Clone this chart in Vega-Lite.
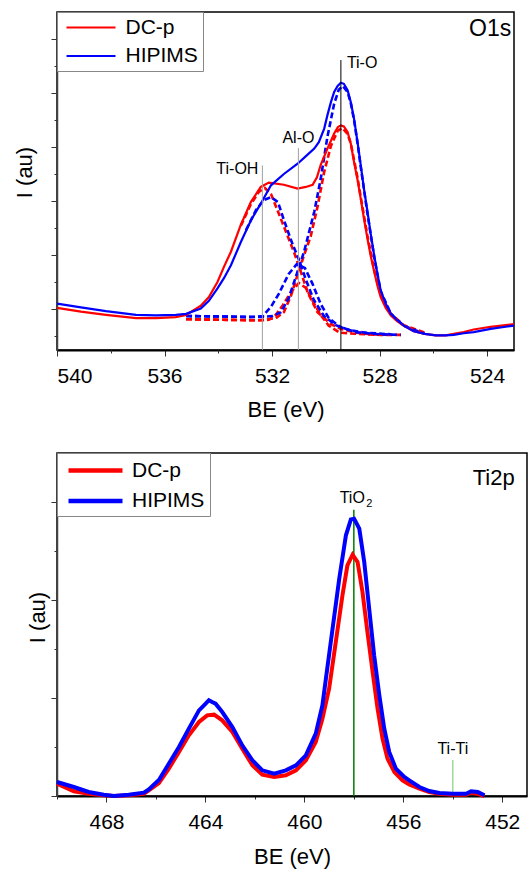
{
"$schema": "https://vega.github.io/schema/vega-lite/v6.json",
"padding": {"left": 12, "top": 10, "right": 2, "bottom": 2},
"bounds": "flush",
"spacing": 103,
"config": {
  "font": "Liberation Sans",
  "view": {"stroke": "#000000", "strokeWidth": 1.5},
  "axis": {"labelFont": "Liberation Sans", "titleFont": "Liberation Sans", "labelFontSize": 21, "titleFontSize": 22, "titleFontWeight": "normal", "labelColor": "#000", "titleColor": "#000", "tickColor": "#333", "domainColor": "#000", "grid": false},
  "text": {"font": "Liberation Sans"}
},
"resolve": {"scale": {"color": "independent"}, "legend": {"color": "independent"}},
"datasets": {
  "o1s": [
    {"be":540.0,"i":1.02,"s":"DC-p"},{"be":539.11,"i":0.95,"s":"DC-p"},{"be":538.18,"i":0.89,"s":"DC-p"},{"be":537.06,"i":0.83,"s":"DC-p"},{"be":536.32,"i":0.83,"s":"DC-p"},{"be":535.58,"i":0.85,"s":"DC-p"},{"be":535.2,"i":0.89,"s":"DC-p"},{"be":534.65,"i":1.06,"s":"DC-p"},{"be":534.35,"i":1.22,"s":"DC-p"},{"be":534.03,"i":1.5,"s":"DC-p"},{"be":533.79,"i":1.78,"s":"DC-p"},{"be":533.53,"i":2.06,"s":"DC-p"},{"be":533.16,"i":2.56,"s":"DC-p"},{"be":532.79,"i":2.98,"s":"DC-p"},{"be":532.42,"i":3.26,"s":"DC-p"},{"be":532.12,"i":3.34,"s":"DC-p"},{"be":531.56,"i":3.3,"s":"DC-p"},{"be":531.05,"i":3.23,"s":"DC-p"},{"be":530.74,"i":3.26,"s":"DC-p"},{"be":530.49,"i":3.3,"s":"DC-p"},{"be":530.33,"i":3.44,"s":"DC-p"},{"be":530.19,"i":3.67,"s":"DC-p"},{"be":529.94,"i":3.97,"s":"DC-p"},{"be":529.69,"i":4.25,"s":"DC-p"},{"be":529.55,"i":4.37,"s":"DC-p"},{"be":529.44,"i":4.4,"s":"DC-p"},{"be":529.33,"i":4.38,"s":"DC-p"},{"be":529.19,"i":4.28,"s":"DC-p"},{"be":529.07,"i":4.06,"s":"DC-p"},{"be":528.95,"i":3.72,"s":"DC-p"},{"be":528.82,"i":3.39,"s":"DC-p"},{"be":528.7,"i":3.04,"s":"DC-p"},{"be":528.58,"i":2.67,"s":"DC-p"},{"be":528.45,"i":2.3,"s":"DC-p"},{"be":528.33,"i":1.98,"s":"DC-p"},{"be":528.2,"i":1.69,"s":"DC-p"},{"be":528.08,"i":1.43,"s":"DC-p"},{"be":527.96,"i":1.22,"s":"DC-p"},{"be":527.77,"i":1.02,"s":"DC-p"},{"be":527.58,"i":0.88,"s":"DC-p"},{"be":527.36,"i":0.78,"s":"DC-p"},{"be":527.1,"i":0.69,"s":"DC-p"},{"be":526.73,"i":0.59,"s":"DC-p"},{"be":526.32,"i":0.54,"s":"DC-p"},{"be":525.91,"i":0.51,"s":"DC-p"},{"be":525.54,"i":0.51,"s":"DC-p"},{"be":525.24,"i":0.54,"s":"DC-p"},{"be":524.87,"i":0.57,"s":"DC-p"},{"be":524.5,"i":0.62,"s":"DC-p"},{"be":523.87,"i":0.67,"s":"DC-p"},{"be":523.31,"i":0.7,"s":"DC-p"},{"be":523.0,"i":0.72,"s":"DC-p"},
    {"be":540.0,"i":1.1,"s":"HIPIMS"},{"be":539.11,"i":1.03,"s":"HIPIMS"},{"be":538.18,"i":0.96,"s":"HIPIMS"},{"be":537.06,"i":0.89,"s":"HIPIMS"},{"be":536.32,"i":0.88,"s":"HIPIMS"},{"be":535.58,"i":0.89,"s":"HIPIMS"},{"be":535.2,"i":0.91,"s":"HIPIMS"},{"be":534.65,"i":1.01,"s":"HIPIMS"},{"be":534.35,"i":1.15,"s":"HIPIMS"},{"be":534.03,"i":1.38,"s":"HIPIMS"},{"be":533.79,"i":1.57,"s":"HIPIMS"},{"be":533.53,"i":1.81,"s":"HIPIMS"},{"be":533.16,"i":2.24,"s":"HIPIMS"},{"be":532.79,"i":2.64,"s":"HIPIMS"},{"be":532.42,"i":2.95,"s":"HIPIMS"},{"be":532.04,"i":3.29,"s":"HIPIMS"},{"be":531.56,"i":3.5,"s":"HIPIMS"},{"be":531.05,"i":3.69,"s":"HIPIMS"},{"be":530.74,"i":3.83,"s":"HIPIMS"},{"be":530.43,"i":3.97,"s":"HIPIMS"},{"be":530.26,"i":4.09,"s":"HIPIMS"},{"be":530.06,"i":4.34,"s":"HIPIMS"},{"be":529.94,"i":4.59,"s":"HIPIMS"},{"be":529.81,"i":4.83,"s":"HIPIMS"},{"be":529.69,"i":5.02,"s":"HIPIMS"},{"be":529.56,"i":5.13,"s":"HIPIMS"},{"be":529.44,"i":5.19,"s":"HIPIMS"},{"be":529.33,"i":5.17,"s":"HIPIMS"},{"be":529.19,"i":5.05,"s":"HIPIMS"},{"be":529.07,"i":4.83,"s":"HIPIMS"},{"be":528.95,"i":4.52,"s":"HIPIMS"},{"be":528.82,"i":4.09,"s":"HIPIMS"},{"be":528.7,"i":3.66,"s":"HIPIMS"},{"be":528.58,"i":3.22,"s":"HIPIMS"},{"be":528.45,"i":2.8,"s":"HIPIMS"},{"be":528.33,"i":2.39,"s":"HIPIMS"},{"be":528.2,"i":1.99,"s":"HIPIMS"},{"be":528.08,"i":1.65,"s":"HIPIMS"},{"be":527.96,"i":1.35,"s":"HIPIMS"},{"be":527.77,"i":1.09,"s":"HIPIMS"},{"be":527.58,"i":0.91,"s":"HIPIMS"},{"be":527.36,"i":0.8,"s":"HIPIMS"},{"be":527.1,"i":0.69,"s":"HIPIMS"},{"be":526.73,"i":0.59,"s":"HIPIMS"},{"be":526.32,"i":0.54,"s":"HIPIMS"},{"be":525.91,"i":0.51,"s":"HIPIMS"},{"be":525.54,"i":0.51,"s":"HIPIMS"},{"be":525.24,"i":0.52,"s":"HIPIMS"},{"be":524.87,"i":0.55,"s":"HIPIMS"},{"be":524.5,"i":0.57,"s":"HIPIMS"},{"be":523.87,"i":0.63,"s":"HIPIMS"},{"be":523.31,"i":0.67,"s":"HIPIMS"},{"be":523.0,"i":0.69,"s":"HIPIMS"}
  ],
  "o1s_c": [
    {"be":533.16,"i":2.54,"s":"DC-p","c":"Ti-OH"},{"be":532.79,"i":2.94,"s":"DC-p","c":"Ti-OH"},{"be":532.49,"i":3.17,"s":"DC-p","c":"Ti-OH"},{"be":532.27,"i":3.24,"s":"DC-p","c":"Ti-OH"},{"be":532.04,"i":3.13,"s":"DC-p","c":"Ti-OH"},{"be":531.8,"i":2.83,"s":"DC-p","c":"Ti-OH"},{"be":531.42,"i":2.35,"s":"DC-p","c":"Ti-OH"},{"be":531.19,"i":2.06,"s":"DC-p","c":"Ti-OH"},{"be":530.99,"i":1.78,"s":"DC-p","c":"Ti-OH"},{"be":530.68,"i":1.31,"s":"DC-p","c":"Ti-OH"},{"be":530.31,"i":0.94,"s":"DC-p","c":"Ti-OH"},{"be":529.81,"i":0.72,"s":"DC-p","c":"Ti-OH"},{"be":529.44,"i":0.63,"s":"DC-p","c":"Ti-OH"},{"be":528.96,"i":0.57,"s":"DC-p","c":"Ti-OH"},{"be":528.33,"i":0.53,"s":"DC-p","c":"Ti-OH"},{"be":527.58,"i":0.52,"s":"DC-p","c":"Ti-OH"},
    {"be":535.2,"i":0.81,"s":"DC-p","c":"Al-O"},{"be":533.9,"i":0.8,"s":"DC-p","c":"Al-O"},{"be":532.6,"i":0.79,"s":"DC-p","c":"Al-O"},{"be":532.12,"i":0.8,"s":"DC-p","c":"Al-O"},{"be":531.86,"i":0.89,"s":"DC-p","c":"Al-O"},{"be":531.6,"i":1.07,"s":"DC-p","c":"Al-O"},{"be":531.3,"i":1.31,"s":"DC-p","c":"Al-O"},{"be":531.0,"i":1.48,"s":"DC-p","c":"Al-O"},{"be":530.74,"i":1.39,"s":"DC-p","c":"Al-O"},{"be":530.49,"i":1.15,"s":"DC-p","c":"Al-O"},{"be":530.22,"i":0.91,"s":"DC-p","c":"Al-O"},{"be":529.89,"i":0.69,"s":"DC-p","c":"Al-O"},{"be":529.48,"i":0.56,"s":"DC-p","c":"Al-O"},{"be":528.89,"i":0.54,"s":"DC-p","c":"Al-O"},{"be":527.96,"i":0.52,"s":"DC-p","c":"Al-O"},{"be":527.21,"i":0.52,"s":"DC-p","c":"Al-O"},
    {"be":535.2,"i":0.81,"s":"DC-p","c":"Ti-O"},{"be":533.9,"i":0.8,"s":"DC-p","c":"Ti-O"},{"be":532.42,"i":0.79,"s":"DC-p","c":"Ti-O"},{"be":531.86,"i":0.83,"s":"DC-p","c":"Ti-O"},{"be":531.56,"i":0.94,"s":"DC-p","c":"Ti-O"},{"be":531.3,"i":1.24,"s":"DC-p","c":"Ti-O"},{"be":531.04,"i":1.65,"s":"DC-p","c":"Ti-O"},{"be":530.82,"i":1.98,"s":"DC-p","c":"Ti-O"},{"be":530.56,"i":2.35,"s":"DC-p","c":"Ti-O"},{"be":530.31,"i":2.89,"s":"DC-p","c":"Ti-O"},{"be":530.06,"i":3.54,"s":"DC-p","c":"Ti-O"},{"be":529.81,"i":4.02,"s":"DC-p","c":"Ti-O"},{"be":529.56,"i":4.3,"s":"DC-p","c":"Ti-O"},{"be":529.38,"i":4.35,"s":"DC-p","c":"Ti-O"},{"be":529.19,"i":4.24,"s":"DC-p","c":"Ti-O"},{"be":529.07,"i":4.06,"s":"DC-p","c":"Ti-O"},{"be":528.95,"i":3.76,"s":"DC-p","c":"Ti-O"},{"be":528.82,"i":3.43,"s":"DC-p","c":"Ti-O"},{"be":528.7,"i":3.07,"s":"DC-p","c":"Ti-O"},{"be":528.45,"i":2.35,"s":"DC-p","c":"Ti-O"},{"be":528.2,"i":1.72,"s":"DC-p","c":"Ti-O"},{"be":527.96,"i":1.26,"s":"DC-p","c":"Ti-O"},{"be":527.58,"i":0.91,"s":"DC-p","c":"Ti-O"},{"be":527.1,"i":0.7,"s":"DC-p","c":"Ti-O"},{"be":526.32,"i":0.56,"s":"DC-p","c":"Ti-O"},
    {"be":532.97,"i":2.46,"s":"HIPIMS","c":"Ti-OH"},{"be":532.6,"i":2.83,"s":"HIPIMS","c":"Ti-OH"},{"be":532.3,"i":3.02,"s":"HIPIMS","c":"Ti-OH"},{"be":532.04,"i":3.07,"s":"HIPIMS","c":"Ti-OH"},{"be":531.78,"i":2.98,"s":"HIPIMS","c":"Ti-OH"},{"be":531.56,"i":2.65,"s":"HIPIMS","c":"Ti-OH"},{"be":531.3,"i":2.28,"s":"HIPIMS","c":"Ti-OH"},{"be":531.0,"i":1.91,"s":"HIPIMS","c":"Ti-OH"},{"be":530.74,"i":1.54,"s":"HIPIMS","c":"Ti-OH"},{"be":530.45,"i":1.17,"s":"HIPIMS","c":"Ti-OH"},{"be":530.07,"i":0.87,"s":"HIPIMS","c":"Ti-OH"},{"be":529.63,"i":0.7,"s":"HIPIMS","c":"Ti-OH"},{"be":529.14,"i":0.61,"s":"HIPIMS","c":"Ti-OH"},{"be":528.51,"i":0.56,"s":"HIPIMS","c":"Ti-OH"},{"be":527.58,"i":0.53,"s":"HIPIMS","c":"Ti-OH"},
    {"be":535.2,"i":0.87,"s":"HIPIMS","c":"Al-O"},{"be":533.9,"i":0.86,"s":"HIPIMS","c":"Al-O"},{"be":532.79,"i":0.85,"s":"HIPIMS","c":"Al-O"},{"be":532.34,"i":0.87,"s":"HIPIMS","c":"Al-O"},{"be":532.04,"i":1.04,"s":"HIPIMS","c":"Al-O"},{"be":531.75,"i":1.28,"s":"HIPIMS","c":"Al-O"},{"be":531.38,"i":1.65,"s":"HIPIMS","c":"Al-O"},{"be":531.08,"i":1.83,"s":"HIPIMS","c":"Al-O"},{"be":530.78,"i":1.76,"s":"HIPIMS","c":"Al-O"},{"be":530.49,"i":1.46,"s":"HIPIMS","c":"Al-O"},{"be":530.19,"i":1.09,"s":"HIPIMS","c":"Al-O"},{"be":529.89,"i":0.83,"s":"HIPIMS","c":"Al-O"},{"be":529.48,"i":0.67,"s":"HIPIMS","c":"Al-O"},{"be":528.89,"i":0.57,"s":"HIPIMS","c":"Al-O"},{"be":527.96,"i":0.53,"s":"HIPIMS","c":"Al-O"},{"be":527.21,"i":0.52,"s":"HIPIMS","c":"Al-O"},
    {"be":535.2,"i":0.87,"s":"HIPIMS","c":"Ti-O"},{"be":533.9,"i":0.86,"s":"HIPIMS","c":"Ti-O"},{"be":532.42,"i":0.85,"s":"HIPIMS","c":"Ti-O"},{"be":531.97,"i":0.87,"s":"HIPIMS","c":"Ti-O"},{"be":531.67,"i":0.94,"s":"HIPIMS","c":"Ti-O"},{"be":531.38,"i":1.2,"s":"HIPIMS","c":"Ti-O"},{"be":531.08,"i":1.65,"s":"HIPIMS","c":"Ti-O"},{"be":530.81,"i":2.06,"s":"HIPIMS","c":"Ti-O"},{"be":530.43,"i":2.8,"s":"HIPIMS","c":"Ti-O"},{"be":530.19,"i":3.41,"s":"HIPIMS","c":"Ti-O"},{"be":529.94,"i":4.19,"s":"HIPIMS","c":"Ti-O"},{"be":529.69,"i":4.8,"s":"HIPIMS","c":"Ti-O"},{"be":529.52,"i":5.06,"s":"HIPIMS","c":"Ti-O"},{"be":529.37,"i":5.13,"s":"HIPIMS","c":"Ti-O"},{"be":529.19,"i":5.02,"s":"HIPIMS","c":"Ti-O"},{"be":529.07,"i":4.81,"s":"HIPIMS","c":"Ti-O"},{"be":528.95,"i":4.5,"s":"HIPIMS","c":"Ti-O"},{"be":528.82,"i":4.07,"s":"HIPIMS","c":"Ti-O"},{"be":528.7,"i":3.63,"s":"HIPIMS","c":"Ti-O"},{"be":528.45,"i":2.76,"s":"HIPIMS","c":"Ti-O"},{"be":528.2,"i":1.96,"s":"HIPIMS","c":"Ti-O"},{"be":527.96,"i":1.33,"s":"HIPIMS","c":"Ti-O"},{"be":527.58,"i":0.91,"s":"HIPIMS","c":"Ti-O"},{"be":527.1,"i":0.69,"s":"HIPIMS","c":"Ti-O"},{"be":526.32,"i":0.54,"s":"HIPIMS","c":"Ti-O"}
  ],
  "ti2p": [
    {"be":470.0,"i":0.126,"s":"DC-p"},{"be":469.32,"i":0.048,"s":"DC-p"},{"be":468.72,"i":0.023,"s":"DC-p"},{"be":468.11,"i":0.007,"s":"DC-p"},{"be":467.7,"i":0.0,"s":"DC-p"},{"be":467.1,"i":0.007,"s":"DC-p"},{"be":466.49,"i":0.023,"s":"DC-p"},{"be":466.29,"i":0.058,"s":"DC-p"},{"be":465.88,"i":0.133,"s":"DC-p"},{"be":465.48,"i":0.279,"s":"DC-p"},{"be":465.07,"i":0.449,"s":"DC-p"},{"be":464.67,"i":0.619,"s":"DC-p"},{"be":464.26,"i":0.755,"s":"DC-p"},{"be":463.93,"i":0.823,"s":"DC-p"},{"be":463.65,"i":0.83,"s":"DC-p"},{"be":463.32,"i":0.772,"s":"DC-p"},{"be":462.91,"i":0.653,"s":"DC-p"},{"be":462.51,"i":0.483,"s":"DC-p"},{"be":462.1,"i":0.313,"s":"DC-p"},{"be":461.7,"i":0.217,"s":"DC-p"},{"be":461.22,"i":0.194,"s":"DC-p"},{"be":460.75,"i":0.211,"s":"DC-p"},{"be":460.34,"i":0.262,"s":"DC-p"},{"be":459.94,"i":0.364,"s":"DC-p"},{"be":459.54,"i":0.551,"s":"DC-p"},{"be":459.27,"i":0.789,"s":"DC-p"},{"be":459.0,"i":1.095,"s":"DC-p"},{"be":458.73,"i":1.571,"s":"DC-p"},{"be":458.46,"i":2.048,"s":"DC-p"},{"be":458.26,"i":2.354,"s":"DC-p"},{"be":458.05,"i":2.462,"s":"DC-p"},{"be":457.85,"i":2.388,"s":"DC-p"},{"be":457.65,"i":2.082,"s":"DC-p"},{"be":457.45,"i":1.673,"s":"DC-p"},{"be":457.24,"i":1.265,"s":"DC-p"},{"be":457.04,"i":0.891,"s":"DC-p"},{"be":456.84,"i":0.585,"s":"DC-p"},{"be":456.64,"i":0.381,"s":"DC-p"},{"be":456.36,"i":0.245,"s":"DC-p"},{"be":456.03,"i":0.16,"s":"DC-p"},{"be":455.76,"i":0.117,"s":"DC-p"},{"be":455.35,"i":0.074,"s":"DC-p"},{"be":454.95,"i":0.041,"s":"DC-p"},{"be":454.54,"i":0.023,"s":"DC-p"},{"be":454.0,"i":0.013,"s":"DC-p"},{"be":453.46,"i":0.013,"s":"DC-p"},{"be":453.26,"i":0.034,"s":"DC-p"},{"be":452.99,"i":0.023,"s":"DC-p"},{"be":452.72,"i":0.0,"s":"DC-p"},
    {"be":470.0,"i":0.143,"s":"HIPIMS"},{"be":469.32,"i":0.092,"s":"HIPIMS"},{"be":468.72,"i":0.041,"s":"HIPIMS"},{"be":468.11,"i":0.013,"s":"HIPIMS"},{"be":467.7,"i":0.0,"s":"HIPIMS"},{"be":467.1,"i":0.013,"s":"HIPIMS"},{"be":466.49,"i":0.034,"s":"HIPIMS"},{"be":466.29,"i":0.066,"s":"HIPIMS"},{"be":465.88,"i":0.163,"s":"HIPIMS"},{"be":465.48,"i":0.33,"s":"HIPIMS"},{"be":465.07,"i":0.5,"s":"HIPIMS"},{"be":464.67,"i":0.687,"s":"HIPIMS"},{"be":464.26,"i":0.874,"s":"HIPIMS"},{"be":463.99,"i":0.942,"s":"HIPIMS"},{"be":463.86,"i":0.977,"s":"HIPIMS"},{"be":463.73,"i":0.959,"s":"HIPIMS"},{"be":463.59,"i":0.942,"s":"HIPIMS"},{"be":463.32,"i":0.857,"s":"HIPIMS"},{"be":462.91,"i":0.704,"s":"HIPIMS"},{"be":462.51,"i":0.517,"s":"HIPIMS"},{"be":462.1,"i":0.364,"s":"HIPIMS"},{"be":461.7,"i":0.262,"s":"HIPIMS"},{"be":461.22,"i":0.228,"s":"HIPIMS"},{"be":460.75,"i":0.262,"s":"HIPIMS"},{"be":460.34,"i":0.313,"s":"HIPIMS"},{"be":459.94,"i":0.415,"s":"HIPIMS"},{"be":459.54,"i":0.636,"s":"HIPIMS"},{"be":459.27,"i":0.926,"s":"HIPIMS"},{"be":459.13,"i":1.197,"s":"HIPIMS"},{"be":458.86,"i":1.707,"s":"HIPIMS"},{"be":458.59,"i":2.217,"s":"HIPIMS"},{"be":458.32,"i":2.66,"s":"HIPIMS"},{"be":458.12,"i":2.823,"s":"HIPIMS"},{"be":457.99,"i":2.83,"s":"HIPIMS"},{"be":457.78,"i":2.728,"s":"HIPIMS"},{"be":457.58,"i":2.388,"s":"HIPIMS"},{"be":457.38,"i":1.911,"s":"HIPIMS"},{"be":457.18,"i":1.436,"s":"HIPIMS"},{"be":456.97,"i":1.028,"s":"HIPIMS"},{"be":456.77,"i":0.687,"s":"HIPIMS"},{"be":456.57,"i":0.449,"s":"HIPIMS"},{"be":456.3,"i":0.279,"s":"HIPIMS"},{"be":455.96,"i":0.194,"s":"HIPIMS"},{"be":455.76,"i":0.16,"s":"HIPIMS"},{"be":455.35,"i":0.092,"s":"HIPIMS"},{"be":454.95,"i":0.051,"s":"HIPIMS"},{"be":454.54,"i":0.031,"s":"HIPIMS"},{"be":454.0,"i":0.023,"s":"HIPIMS"},{"be":453.46,"i":0.023,"s":"HIPIMS"},{"be":453.26,"i":0.048,"s":"HIPIMS"},{"be":452.99,"i":0.041,"s":"HIPIMS"},{"be":452.72,"i":0.007,"s":"HIPIMS"}
  ]
},
"vconcat": [
  {
    "width": 457, "height": 338,
    "resolve": {"axis": {"x": "independent", "y": "independent"}},
    "layer": [
      {
        "data": {"name": "o1s_c"},
        "transform": [{"filter": "datum.s === 'DC-p'"}],
        "mark": {"type": "line", "color": "#ff0000", "strokeWidth": 2.6, "strokeDash": [6, 3]},
        "encoding": {
          "x": {"field": "be", "type": "quantitative", "scale": {"domain": [540, 523], "nice": false, "zero": false}, "axis": null},
          "y": {"field": "i", "type": "quantitative", "scale": {"domain": [0.24, 6.5], "nice": false, "zero": false}, "axis": null},
          "detail": {"field": "c"}
        }
      },
      {
        "data": {"name": "o1s_c"},
        "transform": [{"filter": "datum.s === 'HIPIMS'"}],
        "mark": {"type": "line", "color": "#0000ff", "strokeWidth": 2.6, "strokeDash": [6, 3]},
        "encoding": {
          "x": {"field": "be", "type": "quantitative", "scale": {"domain": [540, 523], "nice": false, "zero": false}, "axis": null},
          "y": {"field": "i", "type": "quantitative", "scale": {"domain": [0.24, 6.5], "nice": false, "zero": false}, "axis": null},
          "detail": {"field": "c"}
        }
      },
      {
        "data": {"name": "o1s"},
        "mark": {"type": "line", "strokeWidth": 2.2},
        "encoding": {
          "x": {"field": "be", "type": "quantitative", "scale": {"domain": [540, 523], "nice": false, "zero": false},
                "axis": {"orient": "bottom", "title": "BE (eV)", "values": [540, 536, 532, 528, 524], "format": "d", "tickSize": 6, "domainWidth": 2, "labelPadding": 9, "titlePadding": 13}},
          "y": {"field": "i", "type": "quantitative", "scale": {"domain": [0.24, 6.5], "nice": false, "zero": false},
                "axis": {"orient": "left", "title": "I (au)", "values": [1, 2, 3, 4, 5, 6], "labels": false, "tickSize": 6, "domainWidth": 1.5, "domainColor": "#444", "titlePadding": 14, "titleY": 160}},
          "color": {"field": "s", "type": "nominal", "scale": {"domain": ["DC-p", "HIPIMS"], "range": ["#ff0000", "#0000ff"]},
                    "legend": {"title": null, "orient": "top-left", "offset": 0, "padding": 4.5, "strokeColor": "#888888", "fillColor": "#ffffff", "symbolType": "M-0.6,0H4.3", "symbolSize": 400, "symbolStrokeWidth": 2, "labelFontSize": 21, "labelOffset": 42, "rowPadding": 7.5, "labelFont": "Liberation Sans", "labelColor": "#000"}}
        }
      },
      {
        "data": {"values": [{"be": 529.44, "y1": 5.61, "y0": 0.24}]},
        "mark": {"type": "rule", "color": "#000000", "strokeWidth": 1},
        "encoding": {
          "x": {"field": "be", "type": "quantitative", "scale": {"domain": [540, 523], "nice": false, "zero": false},
                "axis": {"orient": "bottom", "title": null, "values": [538, 534, 530, 526], "labels": false, "tickSize": 3, "domain": false}},
          "y": {"field": "y1", "type": "quantitative", "scale": {"domain": [0.24, 6.5], "nice": false, "zero": false},
                "axis": {"orient": "left", "title": null, "values": [0.5, 1.5, 2.5, 3.5, 4.5, 5.5], "labels": false, "tickSize": 3, "domain": false}},
          "y2": {"field": "y0"}
        }
      },
      {
        "data": {"values": [{"be": 531.02, "y1": 3.98, "y0": 0.24}, {"be": 532.36, "y1": 3.66, "y0": 0.24}]},
        "mark": {"type": "rule", "color": "#a0a0a0", "strokeWidth": 1},
        "encoding": {
          "x": {"field": "be", "type": "quantitative", "scale": {"domain": [540, 523], "nice": false, "zero": false}, "axis": null},
          "y": {"field": "y1", "type": "quantitative", "scale": {"domain": [0.24, 6.5], "nice": false, "zero": false}, "axis": null},
          "y2": {"field": "y0"}
        }
      },
      {
        "data": {"values": [{"be": 529.44, "i": 5.55, "t": "Ti-O"}]},
        "mark": {"type": "text", "align": "left", "baseline": "middle", "dx": 6, "fontSize": 16, "color": "#000"},
        "encoding": {
          "x": {"field": "be", "type": "quantitative", "scale": {"domain": [540, 523], "nice": false, "zero": false}, "axis": null},
          "y": {"field": "i", "type": "quantitative", "scale": {"domain": [0.24, 6.5], "nice": false, "zero": false}, "axis": null},
          "text": {"field": "t"}
        }
      },
      {
        "data": {"values": [{"be": 531.02, "i": 4.17, "t": "Al-O"}]},
        "mark": {"type": "text", "align": "center", "baseline": "middle", "fontSize": 16, "color": "#000"},
        "encoding": {
          "x": {"field": "be", "type": "quantitative", "scale": {"domain": [540, 523], "nice": false, "zero": false}, "axis": null},
          "y": {"field": "i", "type": "quantitative", "scale": {"domain": [0.24, 6.5], "nice": false, "zero": false}, "axis": null},
          "text": {"field": "t"}
        }
      },
      {
        "data": {"values": [{"be": 532.36, "i": 3.6, "t": "Ti-OH"}]},
        "mark": {"type": "text", "align": "right", "baseline": "middle", "dx": -4, "fontSize": 16, "color": "#000"},
        "encoding": {
          "x": {"field": "be", "type": "quantitative", "scale": {"domain": [540, 523], "nice": false, "zero": false}, "axis": null},
          "y": {"field": "i", "type": "quantitative", "scale": {"domain": [0.24, 6.5], "nice": false, "zero": false}, "axis": null},
          "text": {"field": "t"}
        }
      },
      {
        "data": {"values": [{"be": 523.1, "i": 6.18, "t": "O1s"}]},
        "mark": {"type": "text", "align": "right", "baseline": "middle", "fontSize": 23, "color": "#000"},
        "encoding": {
          "x": {"field": "be", "type": "quantitative", "scale": {"domain": [540, 523], "nice": false, "zero": false}, "axis": null},
          "y": {"field": "i", "type": "quantitative", "scale": {"domain": [0.24, 6.5], "nice": false, "zero": false}, "axis": null},
          "text": {"field": "t"}
        }
      }
    ]
  },
  {
    "width": 470, "height": 343,
    "resolve": {"axis": {"x": "independent", "y": "independent"}},
    "layer": [
      {
        "data": {"values": [{"be": 458.0, "y1": 2.92, "y0": 0}]},
        "mark": {"type": "rule", "color": "#007a00", "strokeWidth": 1.5},
        "encoding": {
          "x": {"field": "be", "type": "quantitative", "scale": {"domain": [470, 451], "nice": false, "zero": false},
                "axis": {"orient": "bottom", "title": null, "values": [470, 466, 462, 458, 454], "labels": false, "tickSize": 3, "domain": false}},
          "y": {"field": "y1", "type": "quantitative", "scale": {"domain": [0, 3.5], "nice": false, "zero": false},
                "axis": {"orient": "left", "title": null, "values": [0.5, 1.5, 2.5], "labels": false, "tickSize": 3, "domain": false}},
          "y2": {"field": "y0"}
        }
      },
      {
        "data": {"values": [{"be": 454.0, "y1": 0.367, "y0": 0}]},
        "mark": {"type": "rule", "color": "#9fd69f", "strokeWidth": 1.5},
        "encoding": {
          "x": {"field": "be", "type": "quantitative", "scale": {"domain": [470, 451], "nice": false, "zero": false}, "axis": null},
          "y": {"field": "y1", "type": "quantitative", "scale": {"domain": [0, 3.5], "nice": false, "zero": false}, "axis": null},
          "y2": {"field": "y0"}
        }
      },
      {
        "data": {"name": "ti2p"},
        "mark": {"type": "line", "strokeWidth": 4},
        "encoding": {
          "x": {"field": "be", "type": "quantitative", "scale": {"domain": [470, 451], "nice": false, "zero": false},
                "axis": {"orient": "bottom", "title": "BE (eV)", "values": [468, 464, 460, 456, 452], "format": "d", "tickSize": 6, "domainWidth": 2, "labelPadding": 9, "titlePadding": 14}},
          "y": {"field": "i", "type": "quantitative", "scale": {"domain": [0, 3.5], "nice": false, "zero": false},
                "axis": {"orient": "left", "title": "I (au)", "values": [0, 1, 2, 3], "labels": false, "tickSize": 6, "domainWidth": 1.5, "domainColor": "#444", "titlePadding": 1, "titleY": 164}},
          "color": {"field": "s", "type": "nominal", "scale": {"domain": ["DC-p", "HIPIMS"], "range": ["#ff0000", "#0000ff"]},
                    "legend": {"title": null, "orient": "top-left", "offset": 0, "padding": 5, "strokeColor": "#888888", "fillColor": "#ffffff", "symbolType": "M-0.6,0H4.8", "symbolSize": 400, "symbolStrokeWidth": 4.5, "labelFontSize": 21, "labelOffset": 45, "rowPadding": 7.5, "labelFont": "Liberation Sans", "labelColor": "#000"}}
        }
      },
      {
        "data": {"values": [{"be": 458.0, "i": 3.04, "t": "TiO"}]},
        "mark": {"type": "text", "align": "right", "baseline": "middle", "dx": 11, "fontSize": 16, "color": "#000"},
        "encoding": {
          "x": {"field": "be", "type": "quantitative", "scale": {"domain": [470, 451], "nice": false, "zero": false}, "axis": null},
          "y": {"field": "i", "type": "quantitative", "scale": {"domain": [0, 3.5], "nice": false, "zero": false}, "axis": null},
          "text": {"field": "t"}
        }
      },
      {
        "data": {"values": [{"be": 458.0, "i": 3.04, "t": "2"}]},
        "mark": {"type": "text", "align": "left", "baseline": "middle", "dx": 12.5, "dy": 6, "fontSize": 11, "color": "#000"},
        "encoding": {
          "x": {"field": "be", "type": "quantitative", "scale": {"domain": [470, 451], "nice": false, "zero": false}, "axis": null},
          "y": {"field": "i", "type": "quantitative", "scale": {"domain": [0, 3.5], "nice": false, "zero": false}, "axis": null},
          "text": {"field": "t"}
        }
      },
      {
        "data": {"values": [{"be": 454.0, "i": 0.475, "t": "Ti-Ti"}]},
        "mark": {"type": "text", "align": "center", "baseline": "middle", "fontSize": 16, "color": "#000"},
        "encoding": {
          "x": {"field": "be", "type": "quantitative", "scale": {"domain": [470, 451], "nice": false, "zero": false}, "axis": null},
          "y": {"field": "i", "type": "quantitative", "scale": {"domain": [0, 3.5], "nice": false, "zero": false}, "axis": null},
          "text": {"field": "t"}
        }
      },
      {
        "data": {"values": [{"be": 451.5, "i": 3.25, "t": "Ti2p"}]},
        "mark": {"type": "text", "align": "right", "baseline": "middle", "fontSize": 22, "color": "#000"},
        "encoding": {
          "x": {"field": "be", "type": "quantitative", "scale": {"domain": [470, 451], "nice": false, "zero": false}, "axis": null},
          "y": {"field": "i", "type": "quantitative", "scale": {"domain": [0, 3.5], "nice": false, "zero": false}, "axis": null},
          "text": {"field": "t"}
        }
      }
    ]
  }
]
}
